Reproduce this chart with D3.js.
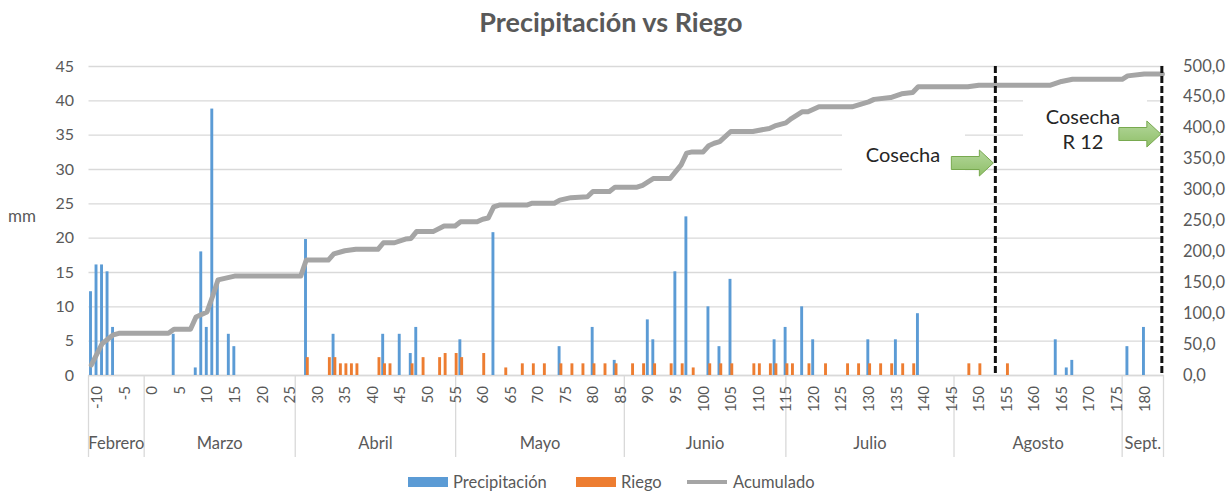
<!DOCTYPE html>
<html>
<head>
<meta charset="utf-8">
<script src="https://cdn.jsdelivr.net/npm/d3@7"></script>
<style>
  body { margin: 0; background: #fff; }
  text { font-family: Lato, "Open Sans", sans-serif; }
</style>
</head>
<body>
<svg id="chart" width="1230" height="491"></svg>
<script>
// ---- data ----
// precipitation bars (day, mm)
const precipDays = [-11, -10, -9, -8, -7, 4, 8, 9, 10, 11, 12, 14, 15, 28, 33, 42, 45, 47, 48, 56,
  62, 74, 80, 84, 90, 91, 95, 97, 101, 103, 105, 113, 115, 118, 120, 130, 135, 139, 164, 166, 167, 177, 180];
const precipMm = [12.2, 16.1, 16.1, 15.1, 7.0, 6.0, 1.1, 18.0, 7.0, 38.8, 13.3, 6.0, 4.2, 19.8, 6.0, 6.0, 6.0, 3.2, 7.0, 5.2,
  20.8, 4.2, 7.0, 2.2, 8.1, 5.2, 15.1, 23.1, 10.0, 4.2, 14.0, 5.2, 7.0, 10.0, 5.2, 5.2, 5.2, 9.0, 5.2, 1.1, 2.2, 4.2, 7.0];

// irrigation bars (day, mm)
const riegoDays = [28, 32, 33, 34, 35, 36, 37, 41, 42, 43, 47, 49, 52, 53, 55, 56, 60, 64, 67, 69, 71, 74, 76, 78, 80,
  82, 84, 87, 89, 91, 94, 96, 98, 101, 103, 105, 109, 110, 112, 113, 115, 116, 119, 122, 126, 128, 130, 132, 134,
  136, 138, 148, 150, 155];
const riegoMm = [2.6, 2.6, 2.6, 1.7, 1.7, 1.7, 1.7, 2.6, 1.7, 1.7, 1.7, 2.6, 2.6, 3.2, 3.2, 2.6, 3.2, 1.1, 1.7, 1.7, 1.7, 1.7, 1.7, 1.7, 1.7,
  1.7, 1.7, 1.7, 1.7, 1.7, 1.7, 1.7, 1.1, 1.7, 1.7, 1.7, 1.7, 1.7, 1.7, 1.7, 1.7, 1.7, 1.7, 1.7, 1.7, 1.7, 1.7, 1.7, 1.7,
  1.7, 1.7, 1.7, 1.7, 1.7];

// accumulated line, vertices (day, mm on right axis)
const acumDays = [-11, -9, -7, -6, 3, 4, 7, 8, 10, 11, 12, 13, 15, 27, 28, 32, 33, 35, 37, 41, 42, 44, 46, 47, 48, 51,
  53, 55, 56, 59, 60, 61, 62, 63, 68, 69, 73, 74, 76, 79, 80, 83, 84, 88, 89, 91, 94, 95, 96, 97, 98, 100,
  101, 102, 103, 105, 109, 112, 113, 115, 116, 118, 119, 121, 127, 130, 131, 134, 136, 138, 139, 148, 150,
  163, 165, 167, 176, 177, 180, 183.3];
const acumMm = [16, 51, 65, 67.5, 67.5, 74, 74, 94, 102, 127, 154, 156, 160, 160, 186, 186, 196, 201, 203.4, 203.4, 214, 214, 220, 221, 232, 232,
  241, 241, 248, 248, 252, 254, 272, 275, 275, 278, 278, 283, 287, 288.5, 297, 297, 304, 304, 307, 318, 318, 329, 340, 359, 361, 361,
  371, 375, 377.5, 394, 394, 399, 403, 408, 415, 426, 426, 434, 434, 442, 446, 449, 455, 457, 466.5, 466.5, 469,
  469, 475, 478.5, 478.5, 484, 487, 487];

const dayTicks = [-10, -5, 0, 5, 10, 15, 20, 25, 30, 35, 40, 45, 50, 55, 60, 65, 70, 75, 80, 85, 90, 95,
  100, 105, 110, 115, 120, 125, 130, 135, 140, 145, 150, 155, 160, 165, 170, 175, 180];
const months = ["Febrero", "Marzo", "Abril", "Mayo", "Junio", "Julio", "Agosto", "Sept."];
const monthEdges = [-11.5, -1.4, 26, 55.1, 85.7, 115, 145.5, 176, 183.5];
const leftTicks = [0, 5, 10, 15, 20, 25, 30, 35, 40, 45];
const rightTicks = [0, 50, 100, 150, 200, 250, 300, 350, 400, 450, 500];
const cosechaDays = [153, 183.2];

// ---- layout ----
const plotLeft = 88.5, plotRight = 1163.5, plotTop = 66, plotBottom = 375;
const grey = "#595959", gridColor = "#d9d9d9";
const blue = "#5b9bd5", orange = "#ed7d31", lineGrey = "#a5a5a5";

const svg = d3.select("#chart");

const x = d3.scaleLinear().domain([-11.5, 183.5]).range([plotLeft, plotRight]);
const yL = d3.scaleLinear().domain([0, 45]).range([plotBottom, plotTop]);
const yR = d3.scaleLinear().domain([0, 500]).range([plotBottom, plotTop]);
const fmtR = d3.formatLocale({decimal: ",", thousands: ".", grouping: [3], currency: ["", ""]}).format(".1f");

// title
svg.append("text").attr("x", 611).attr("y", 32).attr("text-anchor", "middle")
  .attr("font-size", 27).attr("font-weight", "bold").attr("fill", grey)
  .text("Precipitación vs Riego");

// gridlines
svg.append("g").selectAll("line").data(leftTicks).enter().append("line")
  .attr("x1", plotLeft).attr("x2", plotRight)
  .attr("y1", d => yL(d) + 0.5).attr("y2", d => yL(d) + 0.5)
  .attr("stroke", gridColor).attr("stroke-width", 1.3);

// white text boxes of the annotations hide the gridlines behind them
svg.append("rect").attr("x", 842).attr("y", 110).attr("width", 123).attr("height", 68).attr("fill", "#fff");
svg.append("rect").attr("x", 1023).attr("y", 88).attr("width", 124).attr("height", 72).attr("fill", "#fff");

// left axis labels
svg.append("g").selectAll("text").data(leftTicks).enter().append("text")
  .attr("x", 74).attr("y", d => yL(d) + 5.5).attr("text-anchor", "end")
  .attr("font-size", 16).attr("fill", grey).text(d => d);
svg.append("text").attr("x", 22).attr("y", 222).attr("text-anchor", "middle")
  .attr("font-size", 17).attr("fill", grey).text("mm");

// right axis labels
svg.append("g").selectAll("text").data(rightTicks).enter().append("text")
  .attr("x", 1183).attr("y", d => yR(d) + 5.5).attr("text-anchor", "start")
  .attr("font-size", 16.5).attr("fill", grey).text(d => fmtR(d));

// x axis line and month separators
svg.append("line").attr("x1", plotLeft).attr("x2", plotRight).attr("y1", plotBottom + 0.5).attr("y2", plotBottom + 0.5)
  .attr("stroke", gridColor).attr("stroke-width", 1.3);
svg.append("g").selectAll("line").data(monthEdges).enter().append("line")
  .attr("x1", d => x(d)).attr("x2", d => x(d)).attr("y1", plotBottom).attr("y2", 457)
  .attr("stroke", gridColor).attr("stroke-width", 1.3);

// day tick labels, rotated
svg.append("g").selectAll("text").data(dayTicks).enter().append("text")
  .attr("transform", d => `translate(${x(d)},386) rotate(-90)`)
  .attr("dy", "0.36em").attr("text-anchor", "end")
  .attr("font-size", 15).attr("fill", grey).text(d => d);

// month labels
svg.append("g").selectAll("text").data(months).enter().append("text")
  .attr("x", (d, i) => (x(monthEdges[i]) + x(monthEdges[i + 1])) / 2)
  .attr("y", 449).attr("text-anchor", "middle")
  .attr("font-size", 16.5).attr("fill", grey).text(d => d);

// bars
const barW = 2.9;
svg.append("g").selectAll("rect").data(precipDays).enter().append("rect")
  .attr("x", d => x(d) - 2.2).attr("width", barW)
  .attr("y", (d, i) => yL(precipMm[i])).attr("height", (d, i) => yL(0) - yL(precipMm[i]))
  .attr("fill", blue);
svg.append("g").selectAll("rect").data(riegoDays).enter().append("rect")
  .attr("x", d => x(d) - 0.4).attr("width", barW)
  .attr("y", (d, i) => yL(riegoMm[i])).attr("height", (d, i) => yL(0) - yL(riegoMm[i]))
  .attr("fill", orange);

// accumulated line
const acum = acumDays.map((d, i) => [d, acumMm[i]]);
svg.append("path").datum(acum)
  .attr("d", d3.line().x(d => x(d[0])).y(d => yR(d[1])))
  .attr("fill", "none").attr("stroke", lineGrey).attr("stroke-width", 5)
  .attr("stroke-linejoin", "round").attr("stroke-linecap", "round");

// harvest dashed lines
svg.append("g").selectAll("line").data(cosechaDays).enter().append("line")
  .attr("x1", d => x(d)).attr("x2", d => x(d)).attr("y1", plotTop).attr("y2", plotBottom)
  .attr("stroke", "#111").attr("stroke-width", 3).attr("stroke-dasharray", "7,3");

// green arrows
const defs = svg.append("defs");
const grad = defs.append("linearGradient").attr("id", "arrowFill").attr("x1", 0).attr("x2", 0).attr("y1", 0).attr("y2", 1);
grad.append("stop").attr("offset", "0%").attr("stop-color", "#b4d79c");
grad.append("stop").attr("offset", "100%").attr("stop-color", "#8fbf68");

function arrow(tipX, tipY) {
  const len = 42, headLen = 14, shaft = 6.5, head = 13;
  const p = [[tipX - len, tipY - shaft], [tipX - headLen, tipY - shaft], [tipX - headLen, tipY - head], [tipX, tipY],
    [tipX - headLen, tipY + head], [tipX - headLen, tipY + shaft], [tipX - len, tipY + shaft]];
  svg.append("path").attr("d", "M" + p.join("L") + "Z")
    .attr("fill", "url(#arrowFill)").attr("stroke", "#78a94f").attr("stroke-width", 1);
}
arrow(x(cosechaDays[0]) - 2, 163);
arrow(x(cosechaDays[1]) - 1, 134);

// annotation texts
svg.append("text").attr("x", 903).attr("y", 162).attr("text-anchor", "middle")
  .attr("font-size", 20).attr("fill", "#262626").text("Cosecha");
svg.append("text").attr("x", 1083).attr("y", 124).attr("text-anchor", "middle")
  .attr("font-size", 20).attr("fill", "#262626").text("Cosecha");
svg.append("text").attr("x", 1083).attr("y", 149).attr("text-anchor", "middle")
  .attr("font-size", 20).attr("fill", "#262626").text("R 12");

// legend
const lg = svg.append("g").attr("font-size", 16.5).attr("fill", grey);
lg.append("rect").attr("x", 408).attr("y", 477).attr("width", 40).attr("height", 10).attr("fill", blue);
lg.append("text").attr("x", 453).attr("y", 488).text("Precipitación");
lg.append("rect").attr("x", 576).attr("y", 477).attr("width", 40).attr("height", 10).attr("fill", orange);
lg.append("text").attr("x", 621).attr("y", 488).text("Riego");
lg.append("line").attr("x1", 687).attr("x2", 727).attr("y1", 482).attr("y2", 482)
  .attr("stroke", lineGrey).attr("stroke-width", 4);
lg.append("text").attr("x", 733).attr("y", 488).text("Acumulado");
</script>
</body>
</html>
